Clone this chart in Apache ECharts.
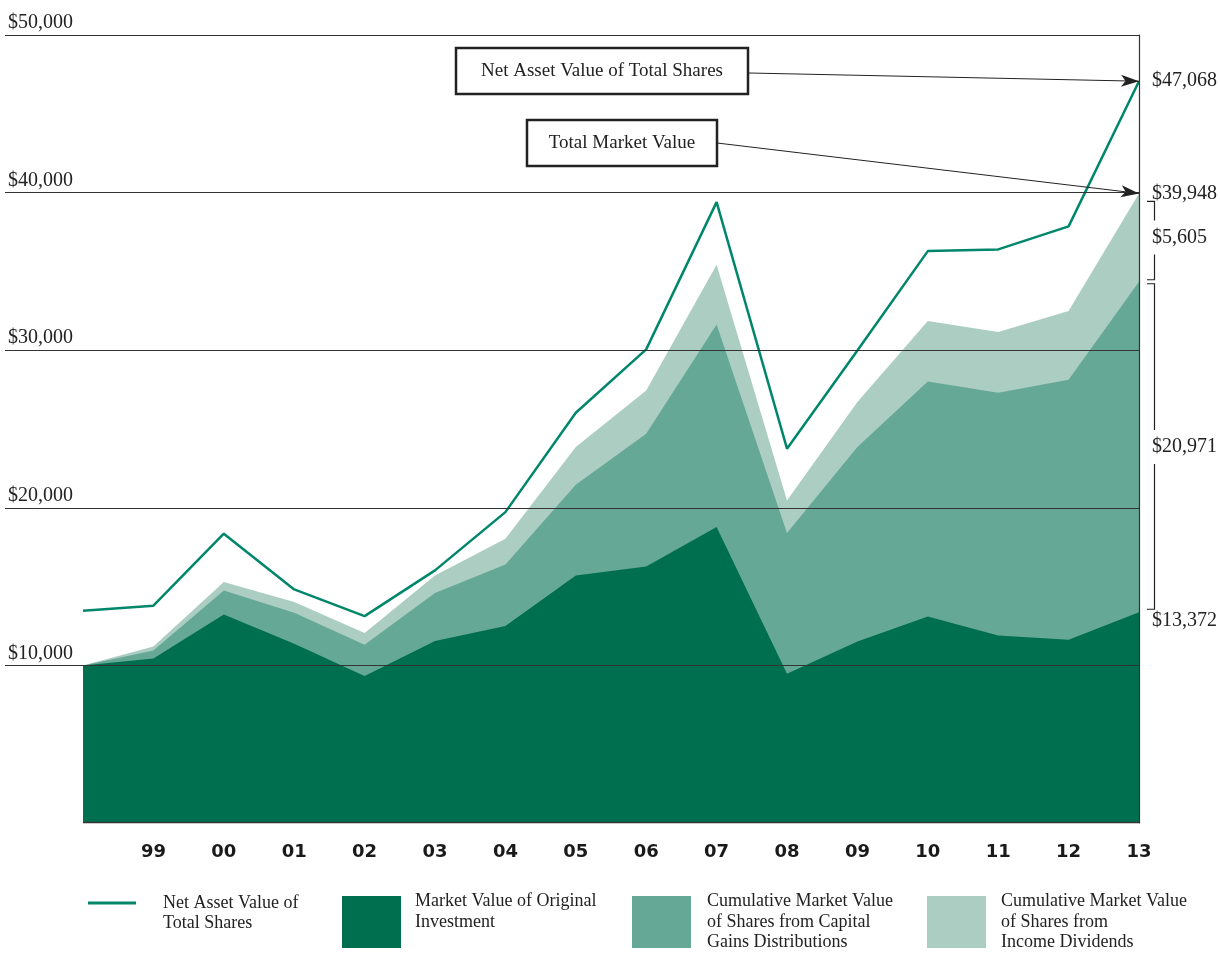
<!DOCTYPE html>
<html>
<head>
<meta charset="utf-8">
<style>
html, body { margin: 0; padding: 0; background: #fff; }
#main { width: 1220px; height: 953px; }
</style>
<script src="https://cdn.jsdelivr.net/npm/echarts@6/dist/echarts.min.js"></script>
</head>
<body>
<div id="main"></div>
<script>
// years (1998 = start point, no label)
var years = [1998, 1999, 2000, 2001, 2002, 2003, 2004, 2005, 2006, 2007, 2008, 2009, 2010, 2011, 2012, 2013];
// net asset value of total shares
var navTotal = [13471, 13788, 18356, 14822, 13128, 16028, 19727, 26034, 30050, 39397, 23750, 29987, 36287, 36395, 37855, 47068];
// market value of original investment
var originalValue = [10000, 10444, 13236, 11377, 9321, 11542, 12494, 15711, 16282, 18775, 9473, 11523, 13109, 11904, 11631, 13372];
// shares from capital gains distributions
var capitalGains = [0, 508, 1523, 1967, 1992, 3045, 3914, 5754, 8419, 12861, 8921, 12328, 14911, 15399, 16497, 20971];
// shares from income dividends
var incomeDividends = [0, 254, 526, 672, 736, 1124, 1631, 2386, 2748, 3788, 2075, 2855, 3826, 3845, 4352, 5605];

var serif = '"Liberation Serif", "Times New Roman", serif';
var ink = '#222';
var cLine = '#00876b', cDark = '#006f50', cMid = '#66a896', cLight = '#accdc2';

var names = {
	nav: 'Net Asset Value of Total Shares',
	orig: 'Market Value of Original Investment',
	cap: 'Cumulative Market Value of Shares from Capital Gains Distributions',
	inc: 'Cumulative Market Value of Shares from Income Dividends'
};
var legendText = {};
legendText[names.nav] = '\nNet Asset Value of\nTotal Shares';
legendText[names.orig] = 'Market Value of Original\nInvestment\n';
legendText[names.cap] = 'Cumulative Market Value\nof Shares from Capital\nGains Distributions';
legendText[names.inc] = 'Cumulative Market Value\nof Shares from\nIncome Dividends';

// stacked tops, built from the parts
var capTop = originalValue.map(function (v, i) { return v + capitalGains[i]; });
var totalTop = capTop.map(function (v, i) { return v + incomeDividends[i]; });

function pairs(arr) {
	return years.map(function (y, i) { return [y, arr[i]]; });
}
function money(v) {
	return '$' + v.toLocaleString('en-US');
}

function makeLegend(name, left, top, w, h, padLeft) {
	return {
		data: [name],
		left: left,
		top: top,
		padding: 0,
		itemWidth: w,
		itemHeight: h,
		icon: 'rect',
		selectedMode: false,
		formatter: function (n) { return legendText[n]; },
		textStyle: { fontFamily: serif, fontSize: 18, lineHeight: 20.5, color: ink, padding: [0, 0, 0, padLeft] }
	};
}

function areaSeries(name, data, color, z) {
	return {
		name: name,
		type: 'line',
		data: pairs(data),
		symbol: 'none',
		silent: true,
		z: z,
		itemStyle: { color: color },
		lineStyle: { width: 0, color: color },
		areaStyle: { color: color, opacity: 1 }
	};
}

var last = years.length - 1;

var myChart = echarts.init(document.getElementById('main'));

myChart.setOption({
	animation: false,
	grid: { left: 5, right: 81, top: 35, bottom: 130 },

	legend: [
		makeLegend(names.nav, 88, 872.25, 48, 3, 22),
		makeLegend(names.orig, 342, 891.25, 59, 52, 9),
		makeLegend(names.cap, 632, 891.25, 59, 52, 11),
		makeLegend(names.inc, 927, 891.25, 59, 52, 10)
	],

	xAxis: {
		type: 'value',
		min: 1996.892,
		max: 2013,
		axisLine: { show: false },
		axisTick: { show: false },
		splitLine: { show: false },
		axisLabel: {
			customValues: years.slice(1),
			margin: 20,
			fontFamily: '"DejaVu Sans", sans-serif',
			fontWeight: 'bold',
			fontSize: 18,
			color: '#1a1a1a',
			formatter: function (v) { return String(v).slice(2); }
		}
	},

	yAxis: [
		{
			type: 'value',
			min: 0,
			max: 50000,
			interval: 10000,
			z: 5,
			axisLine: { show: false },
			axisTick: { show: false },
			axisLabel: {
				inside: true,
				margin: 3,
				verticalAlign: 'bottom',
				padding: [0, 0, 2, 0],
				fontFamily: serif,
				fontSize: 20,
				color: ink,
				formatter: function (v) { return v ? money(v) : ''; }
			},
			splitLine: { showMinLine: false, lineStyle: { color: '#333', width: 1.2 } }
		},
		{
			type: 'value',
			min: 0,
			max: 50000,
			position: 'right',
			z: 5,
			axisLine: { show: true, onZero: false, lineStyle: { color: '#333', width: 1.2 } },
			axisTick: { show: false },
			axisLabel: { show: false },
			splitLine: { show: false }
		}
	],

	series: [
		areaSeries(names.inc, totalTop, cLight, 1),
		areaSeries(names.cap, capTop, cMid, 2),
		areaSeries(names.orig, originalValue, cDark, 3),
		{
			name: names.nav,
			type: 'line',
			data: pairs(navTotal),
			symbol: 'none',
			z: 4,
			itemStyle: { color: cLine },
			lineStyle: { width: 2.5, color: cLine },
			markLine: {
				silent: true,
				symbol: ['none', 'arrow'],
				symbolSize: [9, 18],
				label: { show: false },
				lineStyle: { color: ink, width: 1, type: 'solid' },
				data: [
					[{ coord: [2007.446, 47590] }, { coord: [2013, navTotal[last]] }],
					[{ coord: [2007.006, 43147] }, { coord: [2013, totalTop[last]] }]
				]
			}
		}
	]
});

// right-hand value labels and brackets, placed from the data
function toPx(x, v) {
	return myChart.convertToPixel({ xAxisIndex: 0, yAxisIndex: 0 }, [x, v]);
}
function yAt(v) {
	return toPx(years[last], v)[1];
}
var yNav = yAt(navTotal[last]);
var yTotal = yAt(totalTop[last]);
var yCap = yAt(capTop[last]);
var yOrig = yAt(originalValue[last]);
var base0 = toPx(years[0], 0), base1 = toPx(years[last], 0);
var lx = 1152, bx = 1154.5, hx = 1147;
var yInc = (yTotal + yCap) / 2;
var yGain = (yCap + yOrig) / 2;

function label(id, text, y) {
	return { id: id, type: 'text', x: lx, y: y, z: 10, style: { text: text, verticalAlign: 'middle', font: '20px ' + serif, fill: ink } };
}
function bracket(id, top, bottom, mid) {
	return [
		{ id: id + 'a', type: 'polyline', shape: { points: [[hx, top], [bx, top], [bx, mid - 17]] }, style: { stroke: ink, lineWidth: 1.2, fill: null } },
		{ id: id + 'b', type: 'polyline', shape: { points: [[bx, mid + 17], [bx, bottom], [hx, bottom]] }, style: { stroke: ink, lineWidth: 1.2, fill: null } }
	];
}
function box(id, x, y, w, h, text) {
	return [
		{ id: id + 'r', type: 'rect', z: 10, shape: { x: x, y: y, width: w, height: h }, style: { fill: '#fff', stroke: ink, lineWidth: 2.5 } },
		{ id: id + 't', type: 'text', z: 11, x: x + w / 2, y: y + h / 2, style: { text: text, align: 'center', verticalAlign: 'middle', font: '19px ' + serif, fill: ink } }
	];
}

myChart.setOption({
	graphic: [
		label('l1', money(navTotal[last]), yNav),
		label('l2', money(totalTop[last]), yTotal),
		label('l3', money(incomeDividends[last]), yInc),
		label('l4', money(capitalGains[last]), yGain),
		label('l5', money(originalValue[last]), yOrig + 8),
		{ id: 'base', type: 'line', z: 10, shape: { x1: base0[0], y1: base0[1] - 0.5, x2: base1[0], y2: base1[1] - 0.5 }, style: { stroke: '#333', lineWidth: 1.5 } }
	].concat(
		bracket('b1', yTotal + 8, yCap - 2, yInc),
		bracket('b2', yCap + 2, yOrig - 3, yGain),
		box('nav', 456, 48, 292, 46, 'Net Asset Value of Total Shares'),
		box('tmv', 527, 120, 190, 46, 'Total Market Value')
	)
});
</script>
</body>
</html>
